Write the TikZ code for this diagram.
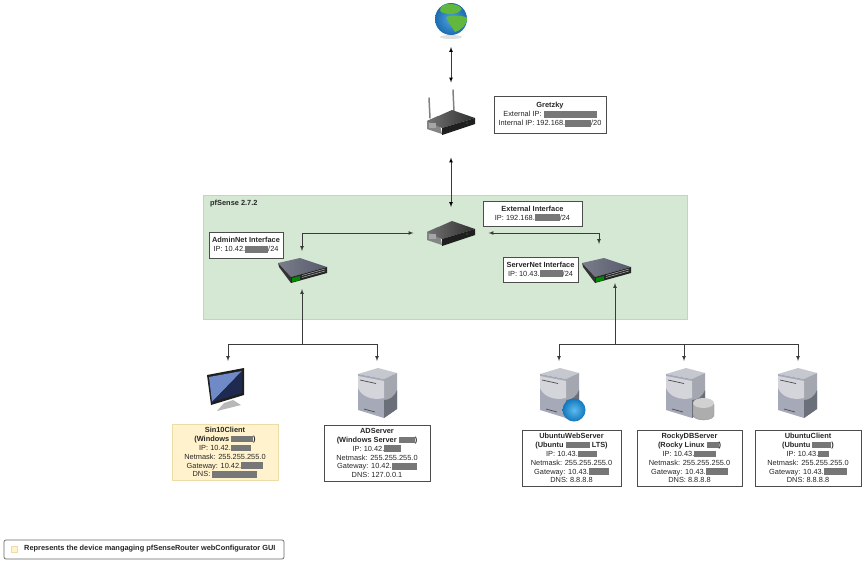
\documentclass[tikz,border=0pt]{standalone}
\usepackage{fontspec}
\setmainfont{Liberation Sans}
\usetikzlibrary{positioning,arrows}
\definecolor{hidegray}{HTML}{777777}
\definecolor{netgreen}{HTML}{D5E8D4}
\definecolor{netborder}{HTML}{BFD8BC}
\definecolor{mgmtfill}{HTML}{FFF2CC}
\definecolor{mgmtborder}{HTML}{EBDCA8}
\definecolor{linkgray}{HTML}{3A3A3A}
\definecolor{casetop}{HTML}{C6C8D0}
\definecolor{casefront}{HTML}{A6A9B8}
\definecolor{casepanel}{HTML}{D4D5DA}
\definecolor{caseside}{HTML}{A5A7B0}
\definecolor{casedark}{HTML}{6B6F79}
\definecolor{oceanlight}{HTML}{4FA3E0}
\definecolor{oceanblue}{HTML}{1C6CB0}
\definecolor{landgreen}{HTML}{62B83E}
\definecolor{balllight}{HTML}{5DBBEE}
\definecolor{ballblue}{HTML}{1277BD}
\definecolor{screenlight}{HTML}{6F8AC6}
\definecolor{screendark}{HTML}{1E2A50}
\definecolor{slatetop}{HTML}{565A6C}
\definecolor{slatelight}{HTML}{7A7D8A}
\newcommand{\hide}[1]{\textcolor{hidegray}{\rule[-0.9pt]{#1pt}{6.6pt}}}
\tikzset{
	servercase/.pic={
		\fill[casetop] (0,6) -- (20,0) -- (39,5) -- (26,11) -- cycle;
		\fill[casefront] (0,6) -- (26,11) -- (26,50) -- (0,42) -- cycle;
		\fill[caseside] (26,11) -- (39,5) -- (39,41) -- (26,50) -- cycle;
		\fill[casedark] (26,32) .. controls (32,32) and (37,28) .. (39,22) -- (39,41) -- (26,50) -- cycle;
		\fill[casepanel] (0,8) -- (26,13) -- (26,30) .. controls (14,33) and (3,28) .. (0,20) -- cycle;
		\draw[black!70,line width=0.7pt] (2,12) -- (18,15.5) (6,41) -- (17,44);
	},
	routerbody/.pic={
		\fill[black!48] (2,14) -- (13,9) -- (17,27) -- (2,22) -- cycle;
		\shade[left color=black!55,right color=black!82] (2,14) -- (27,3) -- (50,11) -- (17,21) -- cycle;
		\fill[black!88] (17,21) -- (50,11) -- (50,17) -- (17,28) -- cycle;
		\fill[black!35] (4,16) rectangle (11,21);
		\fill[green!70!black] (42,16) circle (0.7);
	},
	switchbox/.pic={
		\shade[left color=slatelight,right color=slatetop] (0,5) -- (22,0) -- (49,9) -- (13,19) -- cycle;
		\fill[black!80] (0,5) -- (13,19) -- (13,25) -- (1,9) -- cycle;
		\fill[black!85] (13,19) -- (49,9) -- (49,15) -- (13,25) -- cycle;
		\fill[green!55!black] (14,20) -- (22,18) -- (22,22) -- (14,24) -- cycle;
		\draw[black!30,line width=0.5pt] (24,19.5) -- (47,13) (24,17.5) -- (47,11);
	}
}
\begin{document}
\begin{tikzpicture}[
		x=1pt,y=-1pt,
		>=latex,
		link/.style={draw=linkgray,line width=0.7pt},
		iconspot/.style={inner sep=0pt,outer sep=0pt},
		infobox/.style={draw=black!70,fill=white,line width=0.7pt,align=center,inner sep=0pt,text=black!85,font=\fontsize{7.4}{8.9}\selectfont},
		devbox/.style={infobox,minimum height=56},
		]
		\useasboundingbox (0,0) rectangle (867,568);
		% pfSense area
		\node[draw=netborder,fill=netgreen,line width=0.8pt,minimum width=484,minimum height=124,inner sep=0pt] (pfsense) at (445,257) {};
		\node[anchor=west,inner sep=0pt,font=\fontsize{7.4}{8}\selectfont\bfseries,text=black!85] (pfsenselabel) at (210,204) {pfSense 2.7.2};
		% spots the connectors run to
		\node[iconspot,minimum width=32,minimum height=54] (internet) at (451,20) {};
		\node[iconspot,minimum width=52,minimum height=75] (gretzkyrouter) at (451,120) {};
		\node[iconspot,minimum width=75,minimum height=52] (pfrouter) at (451,233) {};
		\node[iconspot,minimum width=50,minimum height=38] (adminswitch) at (302,270) {};
		\node[iconspot,minimum width=16,minimum height=39] (serverswitch) at (607,263.5) {};
		\node[iconspot,anchor=north,minimum width=39,minimum height=57] (sinclient) at (228,361) {};
		\node[iconspot,anchor=north,minimum width=39,minimum height=57] (adserver) at (377,361) {};
		\node[iconspot,anchor=north,minimum width=39,minimum height=57] (webserver) at (559,361) {};
		\node[iconspot,anchor=north,minimum width=39,minimum height=57] (dbserver) at (684,361) {};
		\node[iconspot,anchor=north,minimum width=39,minimum height=57] (ubuntuclient) at (798,361) {};
		\coordinate (adminhub) at (302,344);
		\coordinate (serverhub) at (615,344);
		% globe
		\fill[black!12] (451,37) ellipse (11 and 2);
		\begin{scope}
			\clip (451,19) circle (16);
			\shade[inner color=oceanlight,outer color=oceanblue] (451,19) circle (16);
			\fill[landgreen] (443,5) .. controls (450,3) and (459,4) .. (462,9) .. controls (458,15) and (449,15) .. (444,13) .. controls (439,13) and (439,8) .. (443,5) -- cycle;
			\fill[landgreen] (446,17) .. controls (452,15) and (462,15) .. (468,18) .. controls (467,25) and (460,31) .. (455,32) .. controls (452,27) and (449,24) .. (446,17) -- cycle;
		\end{scope}
		% routers
		\draw[black!50,line width=1.5pt,line cap=round] (429,98) -- (430,118) (453,90) -- (454,112);
		\pic at (425,107) {routerbody};
		\pic at (425,218) {routerbody};
		% switches
		\pic at (278,258) {switchbox};
		\pic at (582,258) {switchbox};
		% monitor
		\fill[black!28] (217,411) -- (224,403) -- (233,400) -- (241,405) -- cycle;
		\fill[black!88] (207,375) -- (244,368) -- (244,395) -- (211,405) -- cycle;
		\fill[screenlight] (209,377) -- (242,371) -- (212,402) -- cycle;
		\fill[screendark] (242,371) -- (242,393) -- (212,402) -- cycle;
		% servers
		\pic at (358,368) {servercase};
		\pic at (540,368) {servercase};
		\pic at (666,368) {servercase};
		\pic at (778,368) {servercase};
		\shade[inner color=balllight,outer color=ballblue] (574,410) circle (11.5);
		% database
		\fill[black!32] (693,404) -- (693,415) arc[start angle=180,end angle=0,x radius=10.5,y radius=5] -- (714,404) -- cycle;
		\fill[black!18] (703.5,403) ellipse (10.5 and 5);
		\draw[black!45,line width=0.3pt] (693,404) -- (693,415) arc[start angle=180,end angle=0,x radius=10.5,y radius=5] -- (714,404);
		% connectors
		\path [link,<->]
		(internet) edge (gretzkyrouter)
		(gretzkyrouter) edge (pfrouter);
		\draw[link,<->] (adminswitch.north) |- (pfrouter.west);
		\draw[link,<->] (pfrouter.east) -| (serverswitch.north west);
		\draw[link,->] (adminhub) -- (adminswitch.south);
		\draw[link,->] (serverhub) -- (serverswitch.south east);
		\draw[link,->] (adminhub) -| (sinclient.north);
		\draw[link,->] (adminhub) -| (adserver.north);
		\draw[link,->] (serverhub) -| (webserver.north);
		\draw[link,->] (serverhub) -| (dbserver.north);
		\draw[link,->] (serverhub) -| (ubuntuclient.north);
		% interface and device boxes
		\node[infobox,minimum width=112,minimum height=37] (gretzkybox) at (550,114.5)
		{\textbf{Gretzky}\\External IP: \hide{53}\\Internal IP: 192.168.\hide{26}/20};
		\node[infobox,minimum width=74,minimum height=26] (adminbox) at (246,245)
		{\textbf{AdminNet Interface}\\IP: 10.42.\hide{23}/24};
		\node[infobox,minimum width=99,minimum height=25] (externalbox) at (532.5,213.5)
		{\textbf{External Interface}\\IP: 192.168.\hide{25}/24};
		\node[infobox,minimum width=75,minimum height=25] (serverbox) at (540.5,269.5)
		{\textbf{ServerNet Interface}\\IP: 10.43.\hide{23}/24};
		\node[devbox,draw=mgmtborder,fill=mgmtfill,minimum width=106] (sinbox) at (225,452.5)
		{\textbf{Sin10Client}\\\textbf{(Windows \hide{22})}\\IP: 10.42.\hide{20}\\Netmask: 255.255.255.0\\Gateway: 10.42.\hide{22}\\DNS: \hide{45}};
		\node[devbox,minimum width=106] (adbox) at (377,453)
		{\textbf{ADServer}\\\textbf{(Windows Server \hide{16})}\\IP: 10.42.\hide{17}\\Netmask: 255.255.255.0\\Gateway: 10.42.\hide{25}\\DNS: 127.0.0.1};
		\node[devbox,minimum width=99] (webbox) at (571.5,458)
		{\textbf{UbuntuWebServer}\\\textbf{(Ubuntu \hide{24} LTS)}\\IP: 10.43.\hide{19}\\Netmask: 255.255.255.0\\Gateway: 10.43.\hide{20}\\DNS: 8.8.8.8};
		\node[devbox,minimum width=105] (dbbox) at (689.5,458)
		{\textbf{RockyDBServer}\\\textbf{(Rocky Linux \hide{12})}\\IP: 10.43.\hide{22}\\Netmask: 255.255.255.0\\Gateway: 10.43.\hide{22}\\DNS: 8.8.8.8};
		\node[devbox,minimum width=106] (clientbox) at (808,458)
		{\textbf{UbuntuClient}\\\textbf{(Ubuntu \hide{19})}\\IP: 10.43.\hide{11}\\Netmask: 255.255.255.0\\Gateway: 10.43.\hide{23}\\DNS: 8.8.8.8};
		% legend
		\node[draw=black!60,fill=white,rounded corners=2pt,line width=0.7pt,minimum width=280,minimum height=19,inner sep=0pt] (legendbox) at (144,549.5) {};
		\node[draw=mgmtborder,fill=mgmtfill,minimum size=6,inner sep=0pt] (legendmark) at (14,549.5) {};
		\node[anchor=west,inner sep=0pt,text=black!85,font=\fontsize{7.4}{8}\selectfont\bfseries] (legendtext) at (24,549) {Represents the device mangaging pfSenseRouter webConfigurator GUI};
	\end{tikzpicture}
\end{document}
